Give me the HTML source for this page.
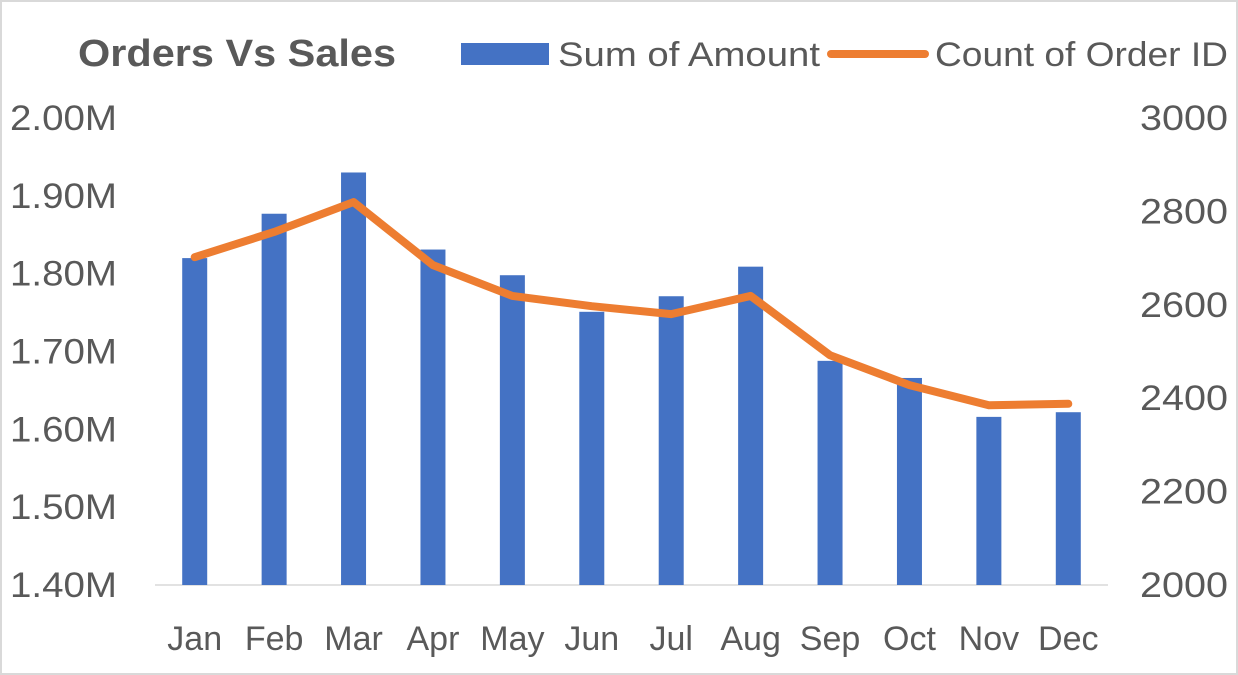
<!DOCTYPE html>
<html><head><meta charset="utf-8">
<style>
html,body{margin:0;padding:0;background:#fff;}
svg{display:block;font-family:"Liberation Sans",sans-serif;}
</style></head>
<body>
<svg id="chart" width="1238" height="675" viewBox="0 0 1238 675" xmlns="http://www.w3.org/2000/svg">
<rect x="1" y="1" width="1236" height="673" fill="#fff" stroke="#d9d9d9" stroke-width="2"/>
<text x="78" y="66" font-size="38" font-weight="bold" fill="#595959" textLength="318" lengthAdjust="spacingAndGlyphs">Orders Vs Sales</text>
<g>
<rect x="461" y="43" width="88" height="22" fill="#4472c4"/>
<text x="558" y="66" font-size="34" fill="#595959" textLength="262" lengthAdjust="spacingAndGlyphs">Sum of Amount</text>
<line x1="831" y1="54" x2="925" y2="54" stroke="#ed7d31" stroke-width="8" stroke-linecap="round"/>
<text x="935" y="66" font-size="34" fill="#595959" textLength="293" lengthAdjust="spacingAndGlyphs">Count of Order ID</text>
</g>
<line x1="155" y1="585" x2="1108" y2="585" stroke="#d9d9d9" stroke-width="1.5"/>
<g id="plot"></g>
</svg>
<script>
const months=["Jan","Feb","Mar","Apr","May","Jun","Jul","Aug","Sep","Oct","Nov","Dec"];
const amounts=[1.820,1.877,1.930,1.831,1.798,1.751,1.771,1.809,1.688,1.666,1.616,1.622];
const orders=[2702,2756,2820,2685,2619,2597,2580,2619,2492,2428,2385,2388];
const leftTicks=[1.40,1.50,1.60,1.70,1.80,1.90,2.00];
const rightTicks=[2000,2200,2400,2600,2800,3000];
const NS="http://www.w3.org/2000/svg";
const g=document.getElementById("plot");
const X0=155,X1=1108,YT=118,YB=585;
const step=(X1-X0)/months.length;
const xs=i=>X0+step*(i+0.5);
const yl=v=>YB-(v-1.4)/(2.0-1.4)*(YB-YT);
const yr=v=>YB-(v-2000)/(3000-2000)*(YB-YT);
function mk(t,a){const e=document.createElementNS(NS,t);for(const k in a)e.setAttribute(k,a[k]);g.appendChild(e);return e;}
leftTicks.forEach(v=>{
 const t=mk("text",{x:10,y:yl(v)+12,"font-size":"35",fill:"#595959",textLength:"107",lengthAdjust:"spacingAndGlyphs"});
 t.textContent=v.toFixed(2)+"M";
 
 
});
rightTicks.forEach(v=>{
 const t=mk("text",{x:1140,y:yr(v)+12,"font-size":"35",fill:"#595959",textLength:"88",lengthAdjust:"spacingAndGlyphs"});
 t.textContent=v;
 
 
});
months.forEach((m,i)=>{
 const t=mk("text",{x:xs(i),y:650,"text-anchor":"middle","font-size":"34",fill:"#595959"});
 t.textContent=m;
 
 
 const y=yl(amounts[i]);
 const b=mk("rect",{x:xs(i)-12.5,y:y,width:25,height:YB-y,fill:"#4472c4"});
 
 
});
const pts=orders.map((v,i)=>xs(i)+","+yr(v)).join(" ");
const l=mk("polyline",{points:pts,fill:"none",stroke:"#ed7d31","stroke-width":"8","stroke-linejoin":"round","stroke-linecap":"round"});


</script>
</body></html>
